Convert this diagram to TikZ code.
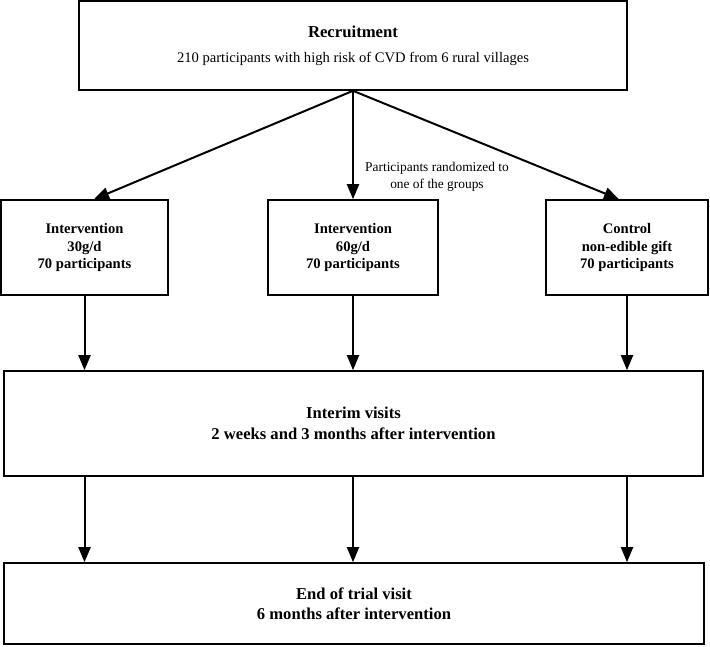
\documentclass[tikz,border=0pt]{standalone}
\usepackage{fontspec}
\setmainfont{Liberation Serif}
\usetikzlibrary{arrows.meta}
\tikzset{
  box/.style={draw,line width=1.6pt,inner sep=0pt,align=center,
    font=\fontsize{14.6}{17.5}\selectfont\bfseries},
  bigbox/.style={box,font=\fontsize{16.6}{20.5}\selectfont\bfseries},
  arr/.style={line width=2pt,-{Triangle[length=15pt,width=12pt]}}
}
\begin{document}
\begin{tikzpicture}[x=1pt,y=-1pt]
    \useasboundingbox (0,0) rectangle (710,646);
    \node[box,minimum width=548,minimum height=89,font=\fontsize{14.6}{25}\selectfont] (recruit) at (353,45.5)
      {{\fontsize{16.7}{25}\selectfont\bfseries Recruitment}\\210 participants with high risk of CVD from 6 rural villages};
    \node[box,minimum width=167,minimum height=95] (int30) at (84.5,247.5) {Intervention\\30g/d\\70 participants};
    \node[box,minimum width=170,minimum height=95] (int60) at (353,247.5) {Intervention\\60g/d\\70 participants};
    \node[box,minimum width=162,minimum height=95] (ctrl) at (627,247.5) {Control\\non-edible gift\\70 participants};
    \node[bigbox,minimum width=699,minimum height=105] (interim) at (353.5,423.5) {Interim visits\\2 weeks and 3 months after intervention};
    \node[bigbox,minimum width=700,minimum height=81] (endv) at (354,603.5) {End of trial visit\\6 months after intervention};
    \node[align=center,inner sep=0pt,font=\fontsize{13.4}{17}\selectfont] (rand) at (437,176.5)
      {Participants randomized to\\one of the groups};
    % randomization
    \draw[arr] (recruit.south) -- ([xshift=9.5pt]int30.north);
    \draw[arr] (recruit.south) -- (int60.north);
    \draw[arr] (recruit.south) -- ([xshift=-8pt]ctrl.north);
    % follow-up
    \foreach \g in {int30,int60,ctrl} {
      \draw[arr] (\g.south) -- (\g.south |- interim.north);
      \draw[arr] (interim.south -| \g) -- (endv.north -| \g);
    }
  \end{tikzpicture}
\end{document}
